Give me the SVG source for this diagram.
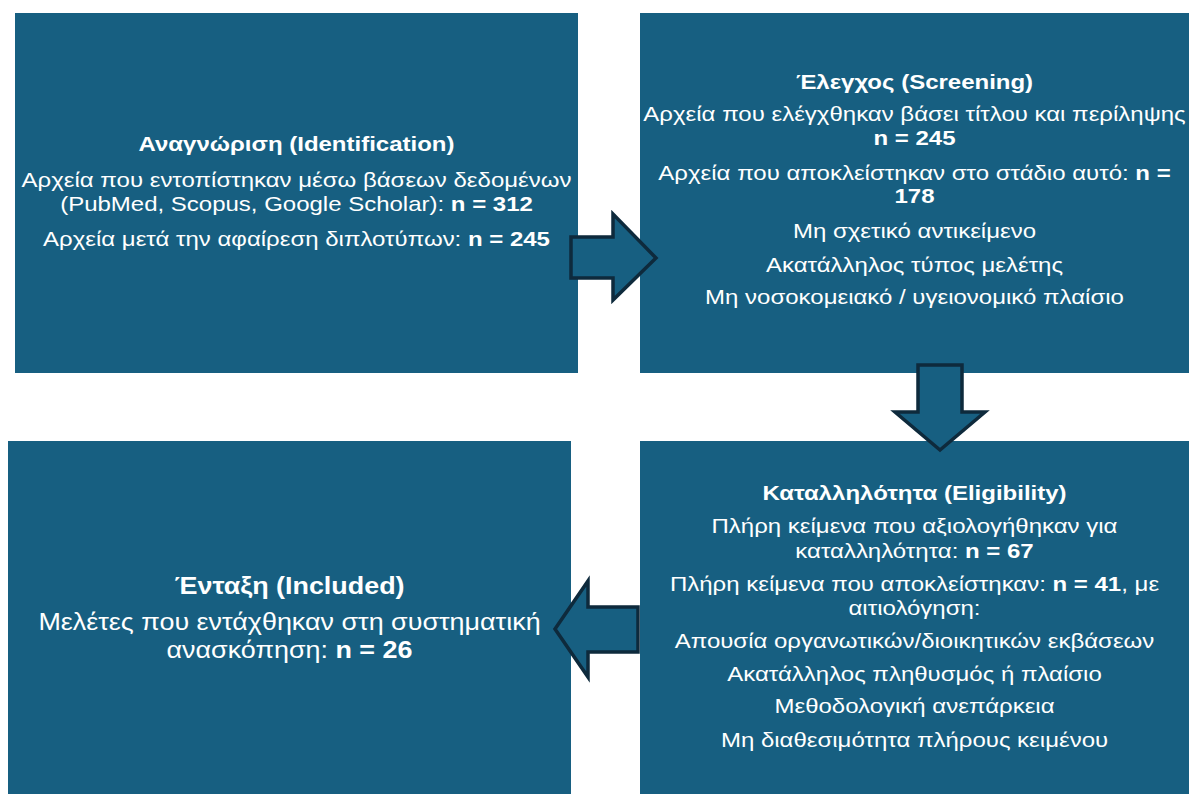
<svg xmlns="http://www.w3.org/2000/svg" width="1189" height="794" viewBox="0 0 1189 794">
<style>
.box{fill:#175f81;}
.arr{fill:#175f81;stroke:#0e2a3c;stroke-width:3.5;stroke-linejoin:miter;}
text{font-family:"Liberation Sans",Arial,sans-serif;fill:#ffffff;text-anchor:middle;font-size:20px;}
.b{font-weight:bold;}
.big{font-size:23px;}
</style>
<rect width="1189" height="794" fill="#ffffff"/>
<g id="identification">
<rect class="box" x="15" y="13" width="563" height="360"/>
<g transform="translate(296.5 0) scale(1.2 1)">
<text x="0" y="151" class="b">Αναγνώριση (Identification)</text>
<text x="0" y="187">Αρχεία που εντοπίστηκαν μέσω βάσεων δεδομένων</text>
<text x="0" y="211">(PubMed, Scopus, Google Scholar): <tspan class="b">n = 312</tspan></text>
<text x="0" y="246">Αρχεία μετά την αφαίρεση διπλοτύπων: <tspan class="b">n = 245</tspan></text>
</g>
</g>
<g id="screening">
<rect class="box" x="640" y="13" width="549" height="360"/>
<g transform="translate(914.5 0) scale(1.2 1)">
<text x="0" y="89" class="b">Έλεγχος (Screening)</text>
<text x="0" y="121">Αρχεία που ελέγχθηκαν βάσει τίτλου και περίληψης</text>
<text x="0" y="145" class="b">n = 245</text>
<text x="0" y="180">Αρχεία που αποκλείστηκαν στο στάδιο αυτό: <tspan class="b">n =</tspan></text>
<text x="0" y="203" class="b">178</text>
<text x="0" y="238">Μη σχετικό αντικείμενο</text>
<text x="0" y="272">Ακατάλληλος τύπος μελέτης</text>
<text x="0" y="304">Μη νοσοκομειακό / υγειονομικό πλαίσιο</text>
</g>
</g>
<g id="eligibility">
<rect class="box" x="640" y="441" width="549" height="353"/>
<g transform="translate(914.5 0) scale(1.2 1)">
<text x="0" y="500" class="b">Καταλληλότητα (Eligibility)</text>
<text x="0" y="533">Πλήρη κείμενα που αξιολογήθηκαν για</text>
<text x="0" y="558">καταλληλότητα: <tspan class="b">n = 67</tspan></text>
<text x="0" y="591">Πλήρη κείμενα που αποκλείστηκαν: <tspan class="b">n = 41</tspan>, με</text>
<text x="0" y="615">αιτιολόγηση:</text>
<text x="0" y="648">Απουσία οργανωτικών/διοικητικών εκβάσεων</text>
<text x="0" y="681">Ακατάλληλος πληθυσμός ή πλαίσιο</text>
<text x="0" y="713">Μεθοδολογική ανεπάρκεια</text>
<text x="0" y="747">Μη διαθεσιμότητα πλήρους κειμένου</text>
</g>
</g>
<g id="included">
<rect class="box" x="8" y="441" width="563" height="353"/>
<g transform="translate(289.5 0) scale(1.17 1)">
<text x="0" y="594" class="big b">Ένταξη (Included)</text>
<text x="0" y="630" class="big">Μελέτες που εντάχθηκαν στη συστηματική</text>
<text x="0" y="658" class="big">ανασκόπηση: <tspan class="b">n = 26</tspan></text>
</g>
</g>
<g id="connectors">
<polygon class="arr" points="571,237 613,237 613,214 656,258 613,300 613,278 571,278"/>
<polygon class="arr" points="918,365 962,365 962,412 985,412 940,450 895,412 918,412"/>
<polygon class="arr" points="638,607 588,607 588,581 555,629 588,677 588,652 638,652"/>
</g>
</svg>
